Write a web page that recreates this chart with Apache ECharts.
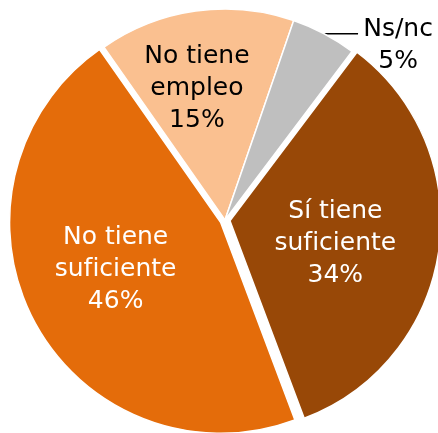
<!DOCTYPE html>
<html lang="es">
<head>
    <meta charset="UTF-8">
    <title>Pie</title>
    <script src="https://cdn.jsdelivr.net/npm/echarts@6/dist/echarts.min.js"></script>
    <style>
        html, body { margin: 0; padding: 0; background: #fff; }
        #chart1 { width: 438px; height: 433px; }
    </style>
</head>
<body>
<div id="chart1"></div>
<script type="text/javascript">
    // data, clockwise from the Sí slice
    var categories = ['Sí tiene\nsuficiente', 'No tiene\nsuficiente', 'No tiene\nempleo', 'Ns/nc'];
    var values = [34, 46, 15, 5];
    var colors = ['#984807', '#E46C0A', '#FAC090', '#BFBFBF'];
    var textColors = ['#ffffff', '#ffffff', '#000000', '#000000'];
    var exploded = [true, true, false, false];

    var pieData = categories.map(function (name, i) {
        var item = {
            name: name,
            value: values[i],
            selected: exploded[i],
            itemStyle: { color: colors[i] },
            label: { color: textColors[i] }
        };
        if (i === 3) {
            item.label = {
                position: 'outside',
                alignTo: 'none',
                overflow: 'none',
                color: textColors[i],
                formatter: '{a|{b}}\n{a|{d}%}',
                rich: { a: { width: 70, align: 'center', fontSize: 25, lineHeight: 32,
                    fontFamily: 'DejaVu Sans', color: '#000' } }
            };
            item.labelLine = { show: true, length: 0, length2: 34,
                lineStyle: { color: '#000', width: 1.5 } };
        }
        return item;
    });

    // nudges for the labels
    var labelShift = [[-2, 7], [-9, -3], [-13, -24], [0, 12]];

    var myChart1 = echarts.init(document.getElementById('chart1'));
    myChart1.setOption({
        animation: false,
        series: [{
            type: 'pie',
            center: [225, 220],
            radius: [0, 211],
            startAngle: 53,
            clockwise: true,
            selectedMode: 'multiple',
            selectedOffset: 5,
            avoidLabelOverlap: false,
            emphasis: { disabled: true },
            itemStyle: { borderColor: '#fff', borderWidth: 1.5 },
            label: {
                show: true,
                position: 'inside',
                formatter: '{b}\n{d}%',
                fontFamily: 'DejaVu Sans',
                fontSize: 25,
                lineHeight: 32,
                textBorderWidth: 0
            },
            labelLine: { show: false },
            labelLayout: function (p) {
                var s = labelShift[p.dataIndex];
                return { dx: s[0], dy: s[1] };
            },
            data: pieData
        }]
    });
</script>
</body>
</html>
